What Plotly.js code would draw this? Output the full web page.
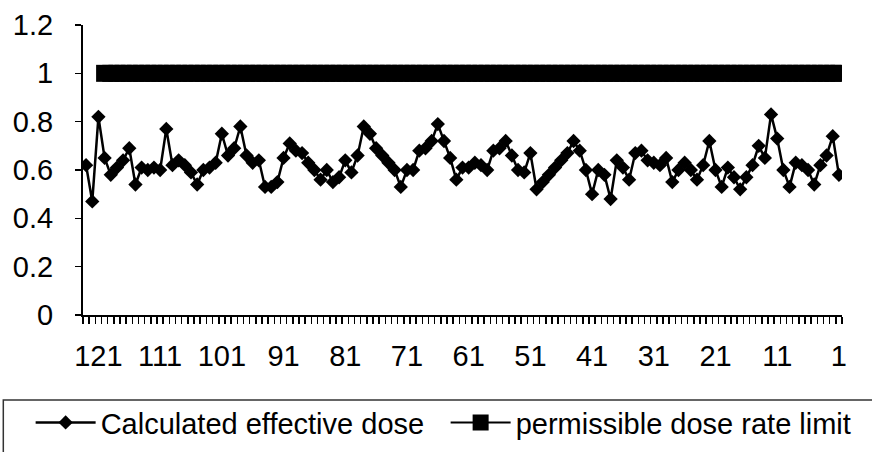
<!DOCTYPE html>
<html>
<head>
<meta charset="utf-8">
<script src="https://cdn.plot.ly/plotly-3.0.1.min.js"></script>
<style>html,body{margin:0;padding:0;background:#fff;}#chart{width:872px;height:452px;}</style>
</head>
<body>
<div id="chart"></div>
<script>
// Sample numbers, left to right (123 down to 1)
const sampleNumbers = [];
for (let i = 123; i >= 1; i--) sampleNumbers.push(i);

// Calculated effective dose, ordered from sample 123 down to sample 1
const effectiveDose = [
  0.62, 0.47, 0.82, 0.65, 0.58, 0.61, 0.64, 0.69, 0.54, 0.61,
  0.60, 0.61, 0.60, 0.77, 0.62, 0.64, 0.62, 0.59, 0.54, 0.60,
  0.61, 0.63, 0.75, 0.66, 0.69, 0.78, 0.66, 0.63, 0.64, 0.53,
  0.53, 0.55, 0.65, 0.71, 0.68, 0.67, 0.63, 0.60, 0.56, 0.60,
  0.55, 0.57, 0.64, 0.59, 0.66, 0.78, 0.75, 0.69, 0.66, 0.63,
  0.60, 0.53, 0.60, 0.60, 0.68, 0.69, 0.72, 0.79, 0.72, 0.65,
  0.56, 0.61, 0.61, 0.63, 0.62, 0.60, 0.68, 0.69, 0.72, 0.66,
  0.60, 0.59, 0.67, 0.52, 0.55, 0.58, 0.61, 0.64, 0.67, 0.72,
  0.68, 0.60, 0.50, 0.60, 0.58, 0.48, 0.64, 0.61, 0.56, 0.67,
  0.68, 0.64, 0.63, 0.62, 0.65, 0.55, 0.60, 0.63, 0.60, 0.56,
  0.62, 0.72, 0.60, 0.53, 0.61, 0.57, 0.52, 0.57, 0.62, 0.70,
  0.65, 0.83, 0.73, 0.60, 0.53, 0.63, 0.62, 0.60, 0.54, 0.62,
  0.66, 0.74, 0.58
];

// Permissible dose rate limit: samples 120 down to 1
const limitSamples = [];
for (let i = 120; i >= 1; i--) limitSamples.push(i);
const limitValue = 1;
const limitDose = limitSamples.map(() => limitValue);

// X tick labels
const xTickVals = [121, 111, 101, 91, 81, 71, 61, 51, 41, 31, 21, 11, 1];
const xTickText = xTickVals.map(String);
// category boundaries for tick marks
const xBoundaries = [];
for (let i = 0; i <= 123; i++) xBoundaries.push(i + 0.5);

const seriesNames = ['Calculated effective dose', 'permissible dose rate limit'];

const FONT = '"Liberation Sans", Arial, sans-serif';

const traces = [
  {
    x: sampleNumbers, y: effectiveDose, name: seriesNames[0],
    type: 'scatter', mode: 'lines+markers',
    line: {color: '#000', width: 2.5},
    marker: {symbol: 'diamond', size: 11, color: '#000'}
  },
  {
    x: limitSamples, y: limitDose, name: seriesNames[1],
    type: 'scatter', mode: 'lines+markers',
    line: {color: '#000', width: 2},
    marker: {symbol: 'square', size: 17, color: '#000'}
  }
];

const layout = {
  width: 872, height: 452,
  margin: {l: 83, r: 30, t: 25, b: 137, autoexpand: false},
  paper_bgcolor: '#fff', plot_bgcolor: '#fff',
  font: {family: FONT, color: '#000', size: 29},
  showlegend: true,
  xaxis: {
    range: [123.5, 0.5], autorange: false,
    tickmode: 'array', tickvals: xTickVals, ticktext: xTickText,
    ticks: '', ticklabelstandoff: 14,
    minor: {ticks: 'outside', tickmode: 'array', tickvals: xBoundaries, ticklen: 7, tickwidth: 1.5, tickcolor: '#000'},
    showgrid: false, zeroline: false,
    showline: true, linecolor: '#000', linewidth: 2,
    tickfont: {family: FONT, size: 29, color: '#000'}
  },
  yaxis: {
    range: [0, 1.2], autorange: false, dtick: 0.2, tick0: 0,
    ticks: 'outside', ticklen: 6, tickwidth: 1.5, tickcolor: '#000',
    ticklabelstandoff: 16,
    showgrid: false, zeroline: false,
    showline: true, linecolor: '#000', linewidth: 2,
    tickfont: {family: FONT, size: 29, color: '#000'}
  },
  legend: {
    orientation: 'h', x: -0.069, xanchor: 'left', y: -0.283, yanchor: 'top',
    borderwidth: 0, bgcolor: 'rgba(0,0,0,0)',
    font: {family: FONT, size: 29, color: '#000'},
    itemwidth: 60, entrywidth: 340, entrywidthmode: 'pixels'
  },
  shapes: [{
    type: 'rect', xref: 'paper', yref: 'paper',
    x0: -0.105, x1: 1.1, y0: -0.293, y1: -0.7,
    line: {color: '#333', width: 1.5}, fillcolor: 'rgba(0,0,0,0)', layer: 'above'
  }]
};

Plotly.newPlot('chart', traces, layout, {displayModeBar: false, staticPlot: true});
</script>
</body>
</html>
